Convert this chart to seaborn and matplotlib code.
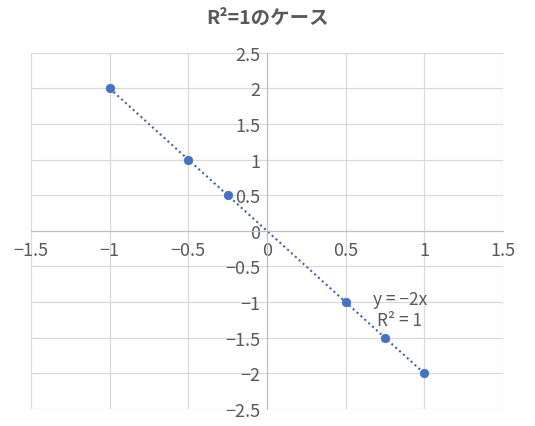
import matplotlib
matplotlib.use('Agg')
import matplotlib.pyplot as plt
import numpy as np
import pandas as pd
import seaborn as sns

x_vals = [-1, -0.5, -0.25, 0.5, 0.75, 1]
y_vals = [2, 1, 0.5, -1, -1.5, -2]
x_ticks = [-1.5, -1, -0.5, 0, 0.5, 1, 1.5]
y_ticks = [-2.5, -2, -1.5, -1, -0.5, 0, 0.5, 1, 1.5, 2, 2.5]
title = 'R²=1のケース'
eq_text = 'y = −2x\nR² = 1'

sns.set_style('white')
plt.rcParams['font.family'] = ['Noto Sans CJK JP', 'DejaVu Sans']
plt.rcParams['axes.unicode_minus'] = True

df = pd.DataFrame({'x': x_vals, 'y': y_vals})

fig = plt.figure(figsize=(5.35, 4.27), dpi=100)
ax = fig.add_axes([0.058, 0.040, 0.882, 0.834])

blue = '#4472C4'
grey = '#595959'

# trendline (linear fit over data range)
slope, icpt = np.polyfit(df['x'], df['y'], 1)
fit = pd.DataFrame({'x': [df['x'].min(), df['x'].max()]})
fit['y'] = slope * fit['x'] + icpt
sns.lineplot(data=fit, x='x', y='y', ax=ax, color='#3f64a8', linestyle=(0, (1, 1.5)),
             linewidth=1.5, zorder=2)

sns.scatterplot(data=df, x='x', y='y', ax=ax, color=blue, s=38, edgecolor=blue,
                linewidth=0.5, zorder=3)

ax.set_xlim(-1.5, 1.5)
ax.set_ylim(-2.5, 2.5)
ax.set_xticks(x_ticks)
ax.set_yticks(y_ticks)
ax.set_xticklabels([f'{v:g}'.replace('-', '−') for v in x_ticks])
ax.set_yticklabels([f'{v:g}'.replace('-', '−') for v in y_ticks])
ax.grid(True, color='#d9d9d9', linewidth=0.9)
ax.set_axisbelow(True)

for s in ['top', 'right']:
    ax.spines[s].set_visible(False)
ax.spines['left'].set_position(('data', 0))
ax.spines['bottom'].set_position(('data', 0))
ax.spines['left'].set_color('#bfbfbf')
ax.spines['bottom'].set_color('#bfbfbf')
ax.tick_params(length=0, labelsize=13, labelcolor=grey)
ax.tick_params(axis='x', pad=7)
ax.tick_params(axis='y', pad=5)
ax.set_xlabel('')
ax.set_ylabel('')

ax.text(0.845, -1.1, eq_text, ha='center', va='center', fontsize=12.5,
        color=grey, linespacing=1.2)

fig.text(0.5, 0.957, title, ha='center', va='center', fontsize=14,
         fontweight='bold', color=grey)

fig.savefig('out.png', dpi=100)
